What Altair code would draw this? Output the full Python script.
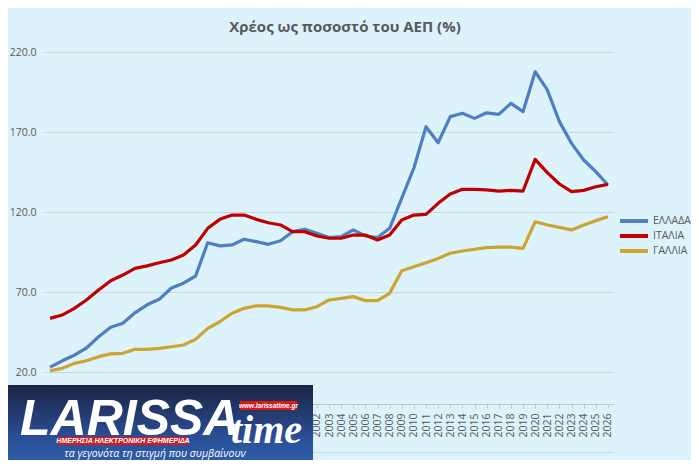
import altair as alt
import pandas as pd

years = [str(y) for y in range(1980, 2027)]

greece = [23.0, 27.0, 30.5, 35.0, 42.0, 48.0, 50.5, 57.0, 62.0, 65.5,
          72.5, 75.5, 80.0, 100.8, 98.8, 99.4, 103.0, 101.5, 99.8, 102.0,
          107.7, 109.2, 106.7, 104.0, 104.6, 108.8, 105.0, 104.0, 109.8, 128.7,
          147.5, 173.3, 163.3, 179.6, 181.7, 178.5, 182.0, 181.0, 187.9, 182.7,
          207.7, 196.3, 176.5, 162.9, 152.5, 145.2, 136.9]

italy = [53.5, 55.6, 59.8, 65.0, 71.3, 77.0, 80.6, 84.8, 86.3, 88.3,
         90.0, 93.1, 99.4, 109.8, 115.4, 118.1, 118.1, 115.4, 113.3, 111.9,
         107.7, 107.7, 105.0, 103.6, 103.6, 105.6, 105.6, 102.5, 105.6, 115.0,
         118.1, 118.5, 125.4, 131.3, 134.2, 134.2, 133.8, 133.1, 133.5, 133.1,
         152.9, 144.6, 137.5, 132.7, 133.5, 135.8, 137.3]

france = [20.8, 22.3, 25.4, 27.0, 29.6, 31.3, 31.7, 34.2, 34.2, 34.8,
          35.8, 36.9, 40.4, 47.3, 51.4, 56.7, 59.8, 61.3, 61.3, 60.4,
          58.8, 58.8, 60.8, 65.0, 66.0, 67.1, 64.6, 64.6, 69.2, 83.3,
          85.8, 88.3, 91.0, 94.2, 95.6, 96.7, 97.7, 98.0, 98.0, 97.3,
          113.9, 111.9, 110.4, 108.8, 111.9, 114.6, 117.0]

series_names = ["ΕΛΛΑΔΑ", "ΙΤΑΛΙΑ", "ΓΑΛΛΙΑ"]
series_colors = ["#4E7FC0", "#C00000", "#CCA430"]
y_ticks = [-30, 20, 70, 120, 170, 220]

rows = []
for name, vals in zip(series_names, [greece, italy, france]):
    for y, v in zip(years, vals):
        rows.append({"Έτος": y, "Χώρα": name, "Τιμή": v})
df = pd.DataFrame(rows)

GRID = "#C9D6DC"
TXT = "#595959"
FONT = "Open Sans"

lines = alt.Chart(df).mark_line(strokeWidth=3.2, strokeJoin="round").encode(
    x=alt.X("Έτος:O", title=None,
            scale=alt.Scale(type="point", padding=0.5),
            axis=alt.Axis(labelAngle=270, offset=-48, domainColor="#BFC8CC",
                          tickColor="#BFC8CC", tickSize=4, labelPadding=5,
                          labelColor=TXT, labelFont=FONT, labelFontSize=10.5,
                          grid=False)),
    y=alt.Y("Τιμή:Q", title=None,
            scale=alt.Scale(domain=[-30, 220], nice=False, zero=False),
            axis=alt.Axis(values=y_ticks, format=".1f", domain=False, ticks=False,
                          gridColor=GRID, labelColor=TXT, labelFont=FONT,
                          labelFontSize=10.5, labelPadding=8)),
    color=alt.Color("Χώρα:N",
                    scale=alt.Scale(domain=series_names, range=series_colors),
                    sort=series_names,
                    legend=alt.Legend(title=None, orient="none", legendX=574,
                                      legendY=162, symbolType="stroke",
                                      symbolSize=784, symbolStrokeWidth=4,
                                      clipHeight=14, rowPadding=1,
                                      labelFont=FONT, labelFontSize=10.5,
                                      labelColor=TXT, labelOffset=3)),
)

one = pd.DataFrame({"k": [0]})

logo_bg = alt.Chart(one).mark_rect(
    color=alt.Gradient(gradient="linear",
                       stops=[alt.GradientStop(color="#1B2443", offset=0),
                              alt.GradientStop(color="#2A4E96", offset=0.6),
                              alt.GradientStop(color="#3064B2", offset=1)],
                       x1=0, x2=0, y1=0, y2=1)
).encode(x=alt.value(-36), x2=alt.value(269), y=alt.value(333), y2=alt.value(420))

red1 = alt.Chart(one).mark_rect(color="#D7191C").encode(
    x=alt.value(196), x2=alt.value(253), y=alt.value(349), y2=alt.value(358))
red2 = alt.Chart(one).mark_rect(color="#D7191C").encode(
    x=alt.value(14), x2=alt.value(144), y=alt.value(385), y2=alt.value(393))

t_lar = alt.Chart(one).mark_text(text="LARISSA", font="Liberation Sans", fontSize=50,
                                 fontWeight="bold", fontStyle="italic", color="white",
                                 align="left", baseline="alphabetic").encode(
    x=alt.value(-24), y=alt.value(383))
t_time = alt.Chart(one).mark_text(text="time", font="Liberation Serif", fontSize=40,
                                  fontWeight="bold", fontStyle="italic", color="white",
                                  align="left", baseline="alphabetic").encode(
    x=alt.value(187), y=alt.value(391))
t_www = alt.Chart(one).mark_text(text="www.larissatime.gr", font="Liberation Sans",
                                 fontSize=6.5, fontWeight="bold", fontStyle="italic",
                                 color="white", align="center", baseline="middle").encode(
    x=alt.value(224.5), y=alt.value(353.5))
t_tag = alt.Chart(one).mark_text(text="ΗΜΕΡΗΣΙΑ ΗΛΕΚΤΡΟΝΙΚΗ ΕΦΗΜΕΡΙΔΑ", font="Liberation Sans",
                                 fontSize=7, fontWeight="bold", fontStyle="italic",
                                 color="white", align="center", baseline="middle").encode(
    x=alt.value(79), y=alt.value(389))
t_sub = alt.Chart(one).mark_text(text="τα γεγονότα τη στιγμή που συμβαίνουν", font=FONT,
                                 fontSize=10.5, fontStyle="italic", color="white",
                                 align="center", baseline="middle").encode(
    x=alt.value(111), y=alt.value(401.5))

chart = alt.layer(lines, logo_bg, red1, red2, t_lar, t_time, t_www, t_tag, t_sub).properties(
    width=570, height=400,
    title=alt.TitleParams("Χρέος ως ποσοστό του ΑΕΠ (%)", font=FONT, fontSize=15,
                          fontWeight="bold", color=TXT, anchor="middle", dx=16,
                          offset=12),
    background="#DDF3FC",
    padding={"left": 36, "top": 44, "right": 77, "bottom": 8},
    autosize=alt.AutoSizeParams(type="none"),
).configure_view(stroke=None)

chart.save("out.html", embed_options={"renderer": "svg", "actions": False})
